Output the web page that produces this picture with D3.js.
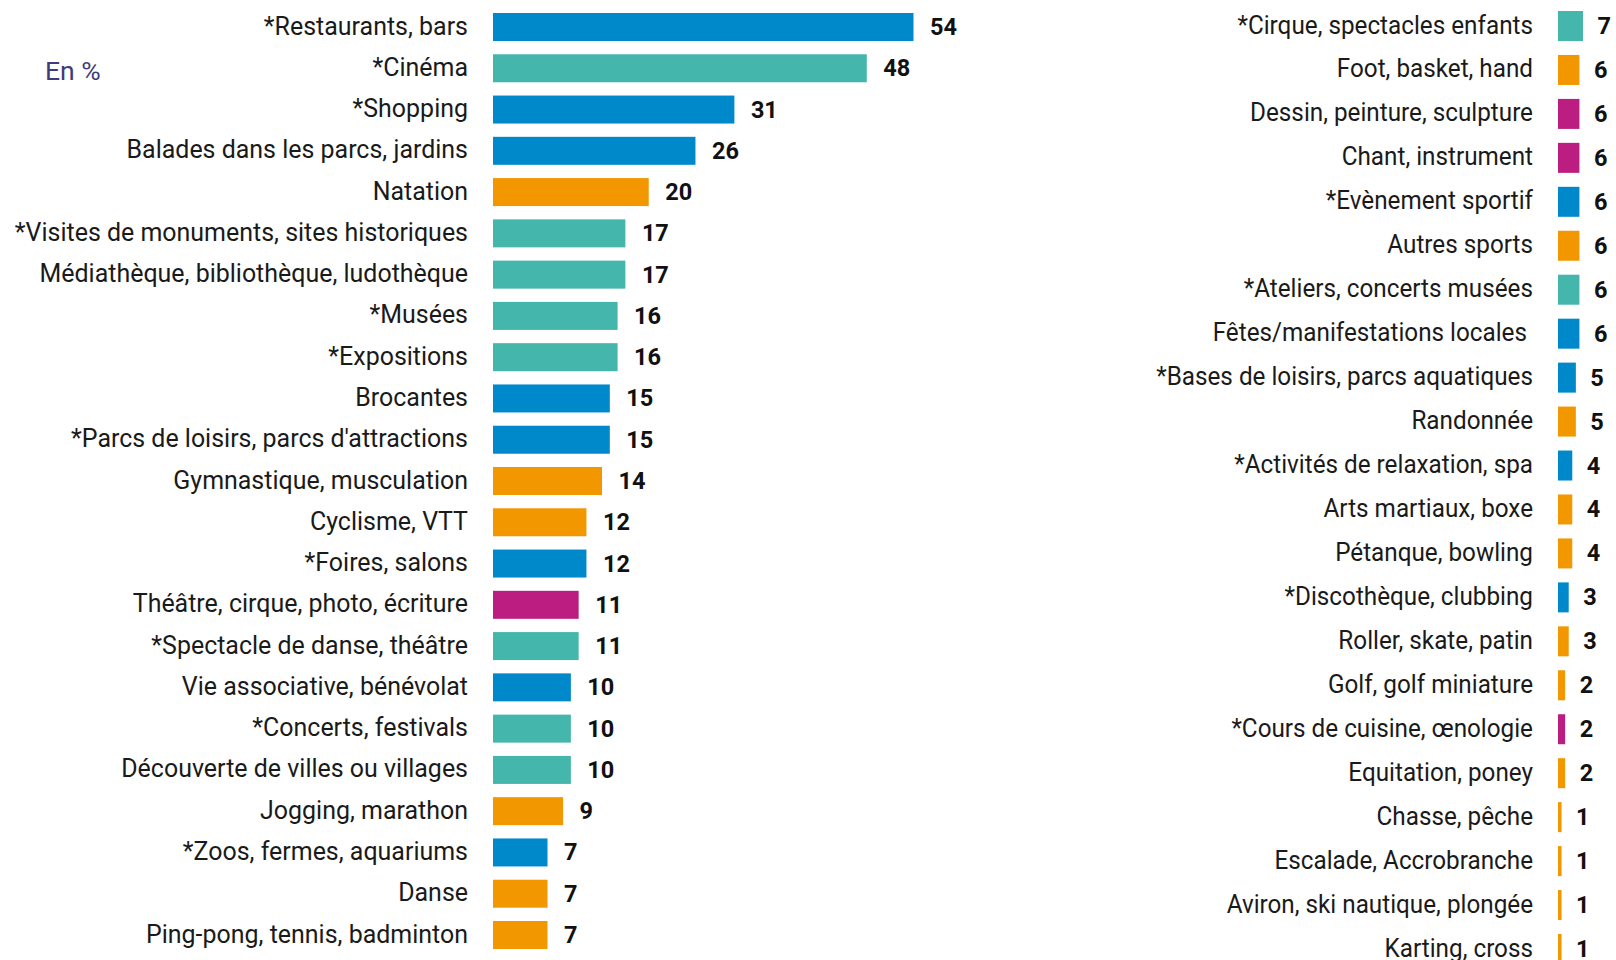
<!DOCTYPE html>
<html><head><meta charset="utf-8">
<script src="https://cdn.jsdelivr.net/npm/d3@7"></script>
<style>
html,body{margin:0;padding:0;background:#fff;}
svg{display:block;}
text{font-family:Roboto,"Noto Sans",sans-serif;white-space:pre;}
</style></head>
<body>
<svg id="chart" width="1616" height="960"></svg>
<script>
// ---- data ----
const leftCategories = ["*Restaurants, bars","*Cinéma","*Shopping","Balades dans les parcs, jardins","Natation","*Visites de monuments, sites historiques","Médiathèque, bibliothèque, ludothèque","*Musées","*Expositions","Brocantes","*Parcs de loisirs, parcs d'attractions","Gymnastique, musculation","Cyclisme, VTT","*Foires, salons","Théâtre, cirque, photo, écriture","*Spectacle de danse, théâtre","Vie associative, bénévolat","*Concerts, festivals","Découverte de villes ou villages","Jogging, marathon","*Zoos, fermes, aquariums","Danse","Ping-pong, tennis, badminton"];
const leftValues = [54,48,31,26,20,17,17,16,16,15,15,14,12,12,11,11,10,10,10,9,7,7,7];
const leftGroups = ["sortie","culture","sortie","sortie","sport","culture","culture","culture","culture","sortie","sortie","sport","sport","sortie","pratique","culture","sortie","culture","culture","sport","sortie","sport","sport"];

const rightCategories = ["*Cirque, spectacles enfants","Foot, basket, hand","Dessin, peinture, sculpture","Chant, instrument","*Evènement sportif","Autres sports","*Ateliers, concerts musées","Fêtes/manifestations locales ","*Bases de loisirs, parcs aquatiques","Randonnée","*Activités de relaxation, spa","Arts martiaux, boxe","Pétanque, bowling","*Discothèque, clubbing","Roller, skate, patin","Golf, golf miniature","*Cours de cuisine, œnologie","Equitation, poney","Chasse, pêche","Escalade, Accrobranche","Aviron, ski nautique, plongée","Karting, cross"];
const rightValues = [7,6,6,6,6,6,6,6,5,5,4,4,4,3,3,2,2,2,1,1,1,1];
const rightGroups = ["culture","sport","pratique","pratique","sortie","sport","culture","sortie","sortie","sport","sortie","sport","sport","sortie","sport","sport","pratique","sport","sport","sport","sport","sport"];

const groupNames = ["sortie","culture","sport","pratique"];
const groupColors = ["#0089CA","#45B6AB","#F39700","#BB1E80"];
const unitLabel = "En %";

// ---- drawing ----
const svg = d3.select("#chart");
const color = d3.scaleOrdinal().domain(groupNames).range(groupColors);
const LABEL_SIZE = 25, VALUE_SIZE = 23.5;

function fitScale(text, target) {
  const probe = svg.append("text").attr("font-size", LABEL_SIZE).text(text);
  const s = target / probe.node().getComputedTextLength();
  probe.remove();
  return s;
}

function panel(cats, vals, groups, opt) {
  const sx = fitScale(cats[opt.probeIdx], opt.probeW);
  const x = d3.scaleLinear().domain([0, opt.maxV]).range([opt.x0, opt.x1]);
  const y = d3.scalePoint().domain(cats).range([opt.yTop, opt.yBot]);
  const g = svg.append("g");
  const data = cats.map((c, i) => ({c, v: vals[i], g: groups[i]}));
  g.selectAll("rect").data(data).join("rect")
    .attr("x", x(0)).attr("y", d => y(d.c) - opt.bh / 2)
    .attr("width", d => x(d.v) - x(0)).attr("height", opt.bh)
    .attr("fill", d => color(d.g));
  g.selectAll("text.lab").data(data).join("text").attr("class", "lab")
    .attr("transform", d => `translate(${opt.labelX},${y(d.c) + 7.5}) scale(${sx},1)`)
    .attr("text-anchor", "end").attr("font-size", LABEL_SIZE).attr("fill", "#1a1a1a")
    .text(d => d.c);
  g.selectAll("text.val").data(data).join("text").attr("class", "val")
    .attr("x", d => x(d.v) + opt.gap).attr("y", d => y(d.c) + 8)
    .attr("font-size", VALUE_SIZE).attr("font-weight", "bold").attr("fill", "#111")
    .text(d => d.v);
}

panel(leftCategories, leftValues, leftGroups,
  {maxV: 54, x0: 493, x1: 913.5, yTop: 27, yBot: 935, bh: 28, labelX: 468, gap: 16.5, probeIdx: 5, probeW: 453.5});
panel(rightCategories, rightValues, rightGroups,
  {maxV: 7, x0: 1558, x1: 1583, yTop: 26, yBot: 949, bh: 30, labelX: 1533, gap: 14.5, probeIdx: 8, probeW: 377});

svg.append("text").attr("x", 45).attr("y", 80).attr("font-size", 26.5)
  .attr("fill", "#3E3A7C").text(unitLabel);
</script>
</body></html>
